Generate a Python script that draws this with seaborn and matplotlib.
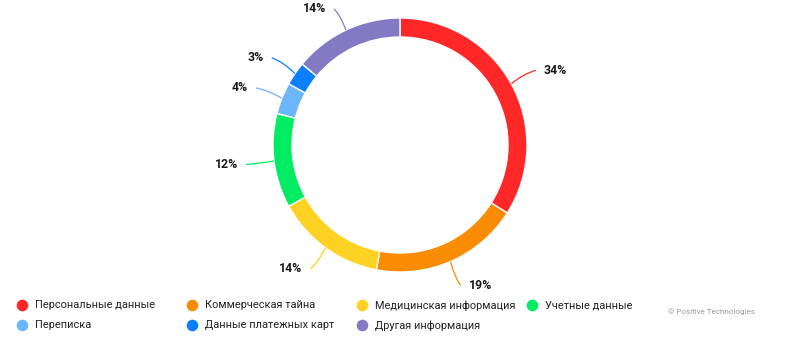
import numpy as np
import matplotlib.pyplot as plt
import seaborn as sns
from matplotlib.path import Path
from matplotlib.patches import PathPatch

categories = ['Персональные данные', 'Коммерческая тайна', 'Медицинская информация',
              'Учетные данные', 'Переписка', 'Данные платежных карт', 'Другая информация']
shares = [34, 19, 14, 12, 4, 3, 14]
colors = ['#FF2828', '#F98C02', '#FED223', '#01EB63', '#6CB5FF', '#0A80FF', '#8479C3']

sns.set_theme(style='white')
plt.rcParams['font.family'] = ['Roboto', 'DejaVu Sans']

W, H = 800, 355
fig = plt.figure(figsize=(W / 100, H / 100), dpi=100)
ax = fig.add_axes([0, 0, 1, 1])

cx, cy, R = 400, H - 145, 127
wedges, _ = ax.pie(shares, colors=colors, startangle=90, counterclock=False,
                   radius=R, center=(cx, cy),
                   wedgeprops=dict(width=19, edgecolor='white', linewidth=1))
ax.set_xlim(0, W)
ax.set_ylim(0, H)
ax.set_aspect('auto')
ax.axis('off')

# percent labels with soft leader lines
for w, v, c in zip(wedges, shares, colors):
    ang = np.deg2rad((w.theta1 + w.theta2) / 2)
    ex, ey = cx + R * np.cos(ang), cy + R * np.sin(ang)
    r_lab = 153 if np.sin(ang) < -0.5 else 155
    tx, ty = cx + r_lab * np.cos(ang), cy + r_lab * np.sin(ang)
    ty = min(ty, H - 9)  # keep the top label inside the canvas
    # control point halfway between chord midpoint and the "horizontal finish" point
    ctrl = (0.5 * (ex + tx) / 2 + 0.5 * (ex + 0.5 * (tx - ex)),
            0.5 * (ey + ty) / 2 + 0.5 * ty)
    path = Path([(ex, ey), ctrl, (tx, ty)], [Path.MOVETO, Path.CURVE3, Path.CURVE3])
    ax.add_patch(PathPatch(path, fill=False, edgecolor=c, lw=0.9))
    right = np.cos(ang) >= 0
    ax.text(tx + (8 if right else -8), ty, f'{v}%',
            ha='left' if right else 'right', va='center',
            fontsize=8.8, fontweight='bold', color='#1a1a1a')

# legend on a fixed 170px grid
for i, (lab, c) in enumerate(zip(categories, colors)):
    col, row = i % 4, i // 4
    x = 22.5 + 170 * col
    y = H - (305.5 + 20 * row)
    ax.scatter([x], [y], s=70, color=c, edgecolor='none', zorder=3)
    ax.text(x + 12.5, y, lab, fontsize=7.9, color='#222222', va='center', ha='left')

ax.text(668, H - 312, '© Positive Technologies', fontsize=5.8, color='#9a9a9a',
        va='center', ha='left')

fig.savefig('out.png', dpi=100, facecolor='white')
